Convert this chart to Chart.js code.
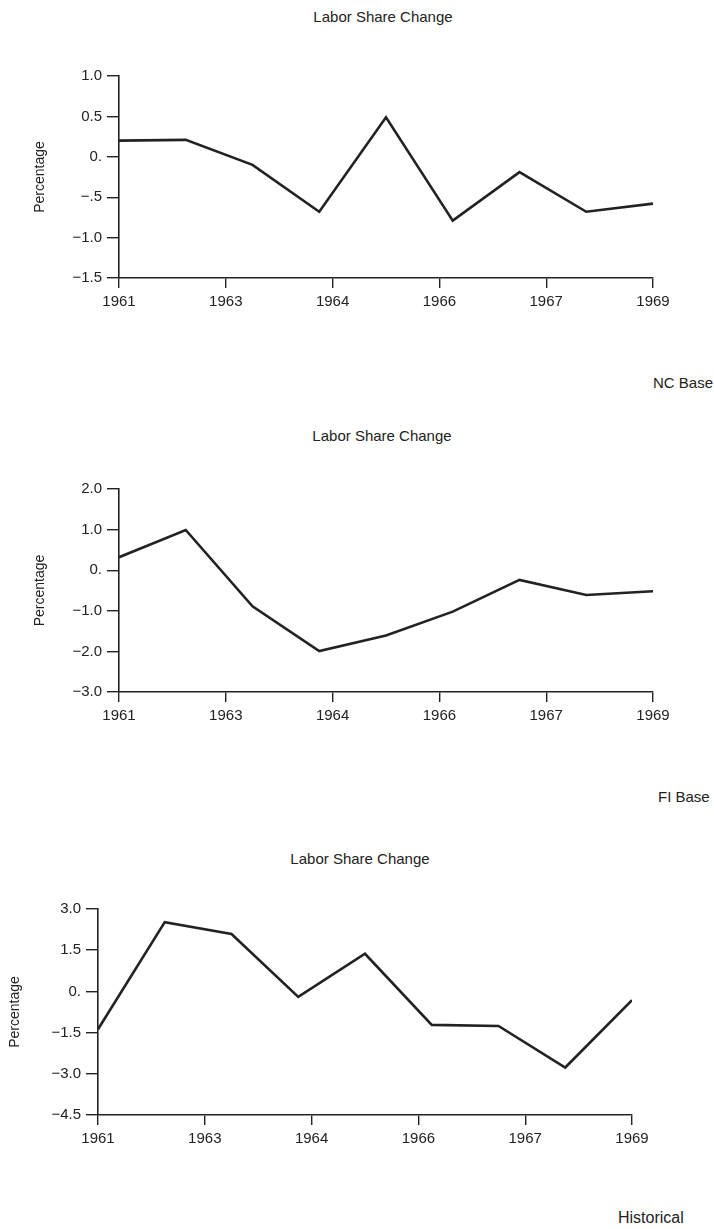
<!DOCTYPE html>
<html>
<head>
<meta charset="utf-8">
<title>Labor Share Change</title>
<script src="https://cdn.jsdelivr.net/npm/chart.js@4.4.1/dist/chart.umd.min.js"></script>
<style>
  html, body { margin: 0; padding: 0; background: #fff; }
  body { width: 714px; height: 1229px; position: relative; overflow: hidden;
         font-family: "Liberation Sans", Arial, sans-serif; color: #222; }
  .box { position: absolute; left: 0; width: 714px; }
  .title, .note { position: absolute; font-size: 15px; white-space: nowrap; line-height: 1; }
  .title { transform: translateX(-50%); }
</style>
</head>
<body>
<div class="title" style="left:383px; top:9px;">Labor Share Change</div>
<div class="box" style="top:50px; height:273px;"><canvas id="nc"></canvas></div>
<div class="note" style="left:653px; top:375px;">NC Base</div>

<div class="title" style="left:382px; top:428px;">Labor Share Change</div>
<div class="box" style="top:460px; height:277px;"><canvas id="fi"></canvas></div>
<div class="note" style="left:658px; top:789px;">FI Base</div>

<div class="title" style="left:360px; top:851px;">Labor Share Change</div>
<div class="box" style="top:880px; height:280px;"><canvas id="hist"></canvas></div>
<div class="note" style="left:618px; top:1210px; font-size:16px;">Historical</div>

<script>
// years for the nine yearly points
const years = [1961, 1962, 1963, 1964, 1965, 1966, 1967, 1968, 1969];
// x tick labels as printed (evenly spaced across 1961-1969)
const xTickLabels = ['1961', '1963', '1964', '1966', '1967', '1969'];

// NC Base
const ncValues = [0.20, 0.21, -0.10, -0.68, 0.49, -0.79, -0.19, -0.68, -0.58];
const ncTicks = [-1.5, -1.0, -0.5, 0, 0.5, 1.0];
const ncTickLabels = ['\u22121.5', '\u22121.0', '\u2212.5', '0.', '0.5', '1.0'];

// FI Base
const fiValues = [0.32, 0.99, -0.89, -1.99, -1.61, -1.02, -0.24, -0.61, -0.52];
const fiTicks = [-3.0, -2.0, -1.0, 0, 1.0, 2.0];
const fiTickLabels = ['\u22123.0', '\u22122.0', '\u22121.0', '0.', '1.0', '2.0'];

// Historical
const histValues = [-1.38, 2.52, 2.09, -0.20, 1.37, -1.22, -1.26, -2.77, -0.32];
const histTicks = [-4.5, -3.0, -1.5, 0, 1.5, 3.0];
const histTickLabels = ['\u22124.5', '\u22123.0', '\u22121.5', '0.', '1.5', '3.0'];

const ink = '#222';
const font = { family: "'Liberation Sans', Arial, sans-serif", size: 15 };

function makeChart(id, values, yTicks, yLabels, pad, yWidth) {
    const xMin = years[0];
    const xMax = years[years.length - 1];
    return new Chart(document.getElementById(id), {
        type: 'line',
        data: {
            datasets: [{
                data: years.map((y, i) => ({ x: y, y: values[i] })),
                borderColor: ink,
                borderWidth: 2.6,
                pointRadius: 0,
                tension: 0,
                fill: false
            }]
        },
        options: {
            responsive: true,
            maintainAspectRatio: false,
            animation: false,
            layout: { padding: pad },
            plugins: { legend: { display: false }, tooltip: { enabled: false }, title: { display: false } },
            scales: {
                x: {
                    type: 'linear',
                    min: xMin,
                    max: xMax,
                    afterBuildTicks: (scale) => {
                        // labels sit at even spacing over the year range
                        scale.ticks = xTickLabels.map((l, i) => ({
                            value: xMin + i * (xMax - xMin) / (xTickLabels.length - 1)
                        }));
                    },
                    afterFit: (scale) => { scale.height = 45; },
                    grid: { drawOnChartArea: false, drawTicks: true, tickLength: 10, color: ink, lineWidth: 1.4 },
                    border: { display: true, color: ink, width: 1.6 },
                    ticks: {
                        color: ink, font: font, padding: 5, maxRotation: 0, autoSkip: false,
                        callback: (v, i) => xTickLabels[i]
                    }
                },
                y: {
                    min: yTicks[0],
                    max: yTicks[yTicks.length - 1],
                    afterBuildTicks: (scale) => {
                        scale.ticks = yTicks.map(v => ({ value: v }));
                    },
                    afterFit: (scale) => { scale.width = yWidth; },
                    grid: { drawOnChartArea: false, drawTicks: true, tickLength: 12, color: ink, lineWidth: 1.4 },
                    border: { display: true, color: ink, width: 1.6 },
                    ticks: {
                        color: ink, font: font, padding: 5, autoSkip: false,
                        callback: (v, i) => yLabels[i]
                    },
                    title: {
                        display: true,
                        text: 'Percentage',
                        color: ink,
                        padding: { top: 0, bottom: 0 },
                        font: { family: font.family, size: 14 }
                    }
                }
            }
        }
    });
}

makeChart('nc', ncValues, ncTicks, ncTickLabels, { left: 32, right: 61, top: 26, bottom: 0 }, 87);
makeChart('fi', fiValues, fiTicks, fiTickLabels, { left: 32, right: 61, top: 29, bottom: 0 }, 87);
makeChart('hist', histValues, histTicks, histTickLabels, { left: 7, right: 82, top: 29, bottom: 0 }, 91);
</script>
</body>
</html>
